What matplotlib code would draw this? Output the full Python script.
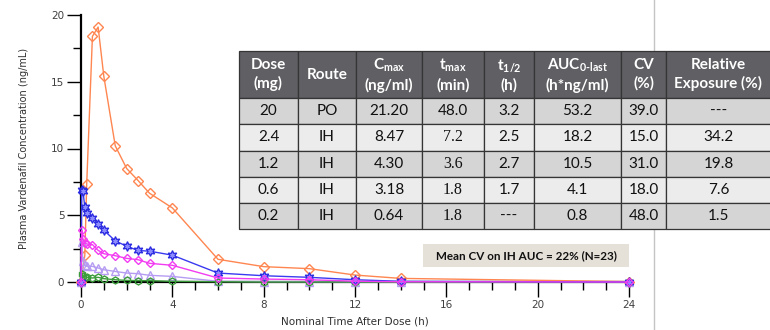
import matplotlib
matplotlib.use('Agg')
import matplotlib.pyplot as plt
import numpy as np
from matplotlib.lines import Line2D
from matplotlib.patches import Rectangle

plt.rcParams['mathtext.fontset'] = 'custom'
plt.rcParams['mathtext.rm'] = 'Lato:bold'
plt.rcParams['mathtext.it'] = 'Lato:bold'
plt.rcParams['mathtext.bf'] = 'Lato:bold'

# nominal times (h)
t_po = [0, 0.167, 0.25, 0.5, 0.75, 1, 1.5, 2, 2.5, 3, 4, 6, 8, 10, 12, 14, 24]
t_ih = [0, 0.033, 0.083, 0.167, 0.25, 0.5, 0.75, 1, 1.5, 2, 2.5, 3, 4, 6, 8, 10, 12, 14, 24]

# mean concentrations (ng/mL)
po_20 = [0, 2.0, 7.35, 18.4, 19.1, 15.4, 10.2, 8.5, 7.6, 6.65, 5.55, 1.7, 1.15, 1.0, 0.52, 0.27, 0.03]
ih_24 = [0, 6.9, 6.85, 5.6, 5.2, 4.8, 4.37, 3.88, 3.08, 2.68, 2.36, 2.31, 2.01, 0.67, 0.47, 0.35, 0.17, 0.05, 0]
ih_12 = [0, 3.87, 3.2, 2.95, 2.85, 2.8, 2.37, 2.12, 1.97, 1.77, 1.67, 1.4, 1.25, 0.3, 0.22, 0.17, 0.06, 0.02, 0]
ih_06 = [0, 3.0, 1.6, 1.3, 1.17, 1.17, 1.05, 0.92, 0.79, 0.67, 0.62, 0.5, 0.42, 0.05, 0.03, 0.02, 0, 0, 0]
ih_02 = [0, 0.62, 0.45, 0.38, 0.35, 0.3, 0.35, 0.25, 0.17, 0.12, 0.1, 0.1, 0.05, 0.02, 0, 0, 0, 0, 0]

# PK summary table
col_labels = ['Dose\n(mg)', 'Route',
              '$\\mathrm{C_{max}}$\n(ng/ml)',
              '$\\mathrm{t_{max}}$\n(min)',
              '$\\mathrm{t_{1/2}}$\n(h)',
              '$\\mathrm{AUC_{0\\text{-}last}}$\n(h*ng/ml)',
              'CV\n(%)', 'Relative\nExposure (%)']
rows = [
    ['20', 'PO', '21.20', '48.0', '3.2', '53.2', '39.0', '---'],
    ['2.4', 'IH', '8.47', '7.2', '2.5', '18.2', '15.0', '34.2'],
    ['1.2', 'IH', '4.30', '3.6', '2.7', '10.5', '31.0', '19.8'],
    ['0.6', 'IH', '3.18', '1.8', '1.7', '4.1', '18.0', '7.6'],
    ['0.2', 'IH', '0.64', '1.8', '---', '0.8', '48.0', '1.5'],
]
col_px = [59, 58, 66, 62, 50, 87, 45, 105]
note = 'Mean CV on IH AUC = 22% (N=23)'

fig = plt.figure(figsize=(7.7, 3.3), dpi=100)

# thin grey frame line behind the table
fig.add_artist(Line2D([654 / 770, 654 / 770], [0, 1], transform=fig.transFigure,
                      color='#c4c4c4', lw=1, zorder=0))

ax = fig.add_axes([81 / 770, 48 / 330, 548 / 770, 267 / 330])

ax.plot(t_po, po_20, color='#ff8650', lw=1, marker='D', ms=5, mfc='none', mec='#ff8650',
        mew=1, clip_on=False, zorder=3)
ax.plot(t_ih, ih_24, color='#3a3af0', lw=1, marker=(6, 1, 0), ms=7, mfc='#8c8cff', mec='#2828e0',
        mew=0.9, clip_on=False, zorder=4)
ax.plot(t_ih, ih_12, color='#f23cf2', lw=1, marker='D', ms=4.5, mfc='none', mec='#f23cf2',
        mew=1, clip_on=False, zorder=4)
ax.plot(t_ih, ih_06, color='#b59cf2', lw=1, marker='^', ms=6, mfc='none', mec='#b59cf2',
        mew=1, clip_on=False, zorder=3)
ax.plot(t_ih, ih_02, color='#3c9c3c', lw=1, marker='h', ms=5, mfc='none', mec='#3c9c3c',
        mew=1, clip_on=False, zorder=3)

ax.set_xlim(0, 24)
ax.set_ylim(0, 20)
ax.spines[['top', 'right']].set_visible(False)
ax.spines['left'].set_linewidth(1.6)
ax.spines['bottom'].set_linewidth(1.6)
ax.set_xticks(range(0, 25, 4))
ax.set_xticks(range(0, 25, 1), minor=True)
ax.set_yticks([0, 5, 10, 15, 20])
ax.set_yticks(np.arange(0, 20.1, 2.5), minor=True)
ax.tick_params(axis='x', which='major', length=11, width=1, labelsize=7.5,
               labelcolor='#404040', pad=2)
ax.tick_params(axis='x', which='minor', length=5.5, width=1)
ax.tick_params(axis='y', which='major', length=10, width=1, labelsize=7.5,
               labelcolor='#404040', pad=2)
ax.tick_params(axis='y', which='minor', length=6, width=1)

ax.set_xlabel('Nominal Time After Dose (h)', fontsize=7.5, color='#303030')
ax.xaxis.set_label_coords(0.5, -0.13)
ax.set_ylabel('Plasma Vardenafil Concentration (ng/mL)', fontsize=7, color='#303030')
ax.yaxis.set_label_coords(-0.095, 0.5)

# table
tax = fig.add_axes([239 / 770, 101 / 330, 532 / 770, 178 / 330])
tax.axis('off')
tbl = tax.table(cellText=rows, colLabels=col_labels, cellLoc='center', bbox=[0, 0, 1, 1],
                colWidths=[w / sum(col_px) for w in col_px])
tbl.auto_set_font_size(False)
for (r, c), cell in tbl.get_celld().items():
    cell.set_edgecolor('#353535')
    cell.set_linewidth(0.9)
    txt = cell.get_text()
    if r == 0:
        cell.set_height(47)
        cell.set_facecolor('#5f5f64')
        txt.set_color('white')
        txt.set_fontfamily('Lato')
        txt.set_fontweight('bold')
        txt.set_fontsize(11)
        txt.set_linespacing(1.35)
    else:
        cell.set_height(26)
        cell.set_facecolor('#d5d5d5' if r % 2 == 1 else '#ececec')
        txt.set_color('#111111')
        txt.set_fontsize(11)
        if c == 3 and r > 1:
            txt.set_fontfamily('Liberation Serif')
            txt.set_fontsize(11.5)
        else:
            txt.set_fontfamily('Lato')

# annotation box
fig.add_artist(Rectangle((423 / 770, (330 - 267) / 330), 206 / 770, 23 / 330,
                         transform=fig.transFigure, fc='#e5e0d8', ec='none', zorder=1))
fig.text(526 / 770, 1 - 255.5 / 330, note, ha='center', va='center', fontsize=8.4,
         fontfamily='Lato', fontweight='bold', color='#111111', zorder=2)

fig.savefig('out.png', dpi=100)
